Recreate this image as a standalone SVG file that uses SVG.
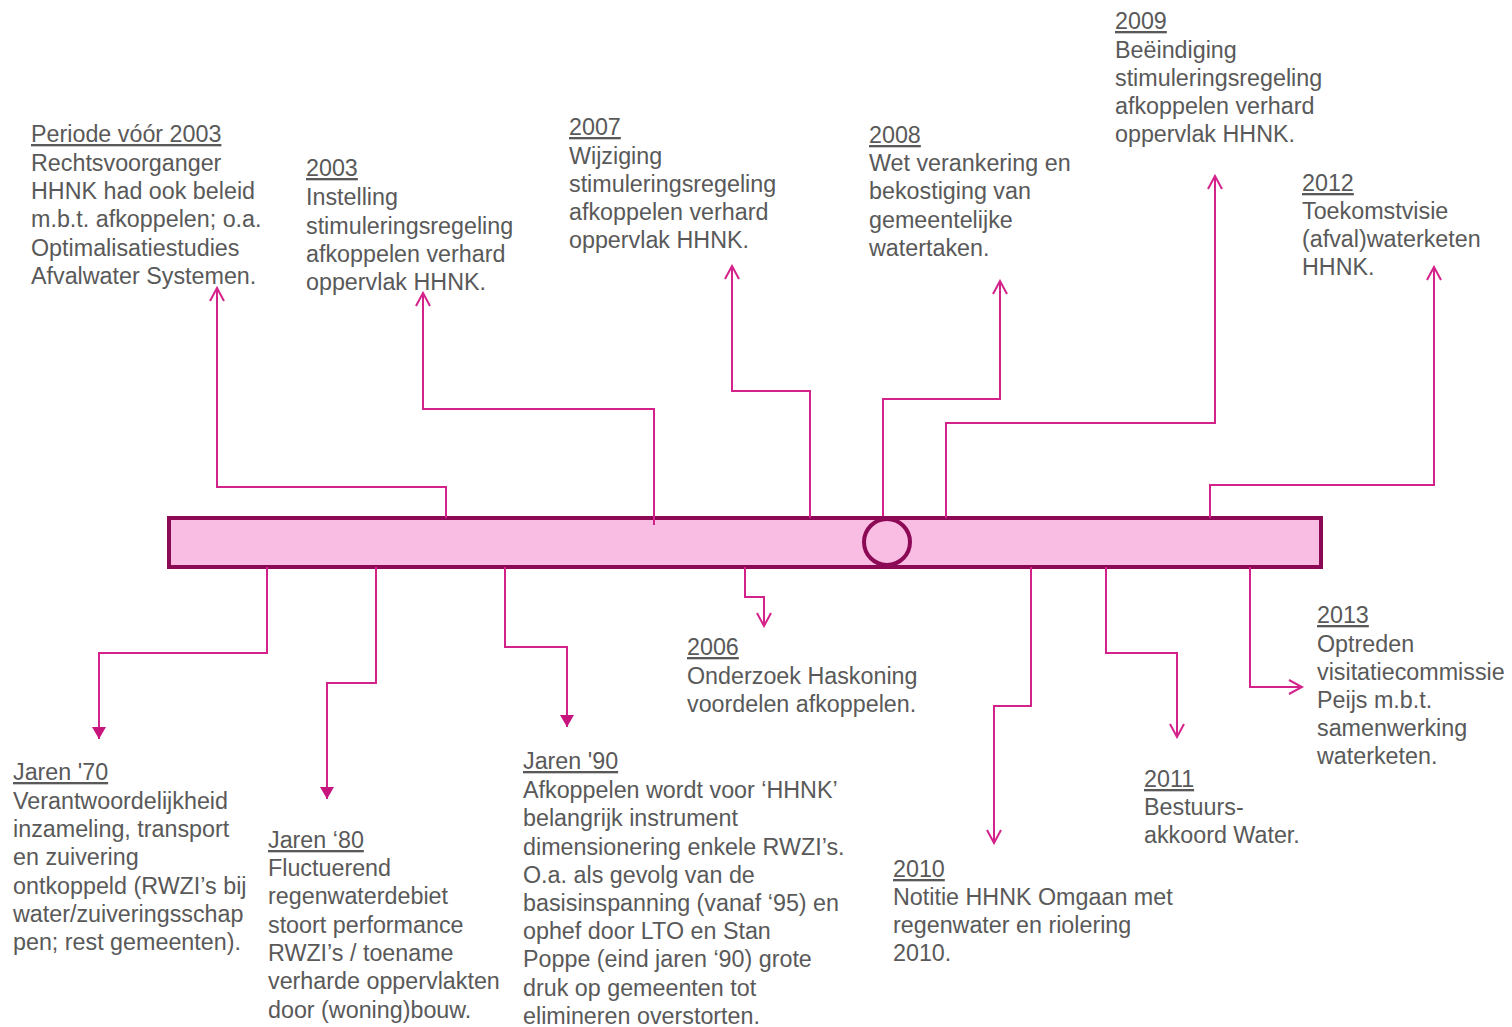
<svg xmlns="http://www.w3.org/2000/svg" width="1512" height="1027" viewBox="0 0 1512 1027">
<defs>
<style>
text{font-family:"Liberation Sans",Arial,sans-serif;font-size:23.3px;fill:#595959}
.u{text-decoration:underline}
.c{fill:none;stroke:#D4228B;stroke-width:2}
.o{marker-end:url(#open)}
.f{marker-end:url(#fill)}
.bar{fill:#F9BCE3;stroke:#8C0A55;stroke-width:4}
</style>
<marker id="open" viewBox="0 0 16 16" refX="14" refY="8" markerWidth="16" markerHeight="16" markerUnits="userSpaceOnUse" orient="auto">
<path d="M1,1 L14,8 L1,15" fill="none" stroke="#D4228B" stroke-width="2"/>
</marker>
<marker id="fill" viewBox="0 0 12 14" refX="12" refY="7" markerWidth="12" markerHeight="14" markerUnits="userSpaceOnUse" orient="auto">
<path d="M0,0 L12,7 L0,14 Z" fill="#C8157E"/>
</marker>
</defs>
<rect width="1512" height="1027" fill="#fff"/>
<g id="timeline">
<rect class="bar" x="169" y="518" width="1152" height="49"/>
<circle class="bar" cx="887" cy="542" r="23"/>
</g>
<g id="connectors">
<path class="c o" d="M446,518 V487 H217 V288"/>
<path class="c o" d="M654,525 V409 H423 V293"/>
<path class="c o" d="M810,518 V391 H732 V266"/>
<path class="c o" d="M883,516 V399 H1000 V281"/>
<path class="c o" d="M946,518 V423 H1215 V176"/>
<path class="c o" d="M1210,518 V485 H1434 V267"/>
<path class="c f" d="M267,567 V653 H99 V739"/>
<path class="c f" d="M376,567 V683 H327 V799"/>
<path class="c f" d="M505,567 V647 H567 V727"/>
<path class="c o" d="M745,567 V597 H764 V626"/>
<path class="c o" d="M1031,567 V706 H994 V843"/>
<path class="c o" d="M1106,567 V653 H1177 V737"/>
<path class="c o" d="M1250,567 V687 H1302"/>
</g>
<g id="periode-2003">
<text x="31" y="142" class="u">Periode vóór 2003</text>
<text x="31" y="171">Rechtsvoorganger</text>
<text x="31" y="199">HHNK had ook beleid</text>
<text x="31" y="227">m.b.t. afkoppelen; o.a.</text>
<text x="31" y="256">Optimalisatiestudies</text>
<text x="31" y="284">Afvalwater Systemen.</text>
</g>
<g id="n2003">
<text x="306" y="176" class="u">2003</text>
<text x="306" y="205">Instelling</text>
<text x="306" y="234">stimuleringsregeling</text>
<text x="306" y="262">afkoppelen verhard</text>
<text x="306" y="290">oppervlak HHNK.</text>
</g>
<g id="n2007">
<text x="569" y="135" class="u">2007</text>
<text x="569" y="164">Wijziging</text>
<text x="569" y="192">stimuleringsregeling</text>
<text x="569" y="220">afkoppelen verhard</text>
<text x="569" y="248">oppervlak HHNK.</text>
</g>
<g id="n2008">
<text x="869" y="143" class="u">2008</text>
<text x="869" y="171">Wet verankering en</text>
<text x="869" y="199">bekostiging van</text>
<text x="869" y="228">gemeentelijke</text>
<text x="869" y="256">watertaken.</text>
</g>
<g id="n2009">
<text x="1115" y="29" class="u">2009</text>
<text x="1115" y="58">Beëindiging</text>
<text x="1115" y="86">stimuleringsregeling</text>
<text x="1115" y="114">afkoppelen verhard</text>
<text x="1115" y="142">oppervlak HHNK.</text>
</g>
<g id="n2012">
<text x="1302" y="191" class="u">2012</text>
<text x="1302" y="219">Toekomstvisie</text>
<text x="1302" y="247">(afval)waterketen</text>
<text x="1302" y="275">HHNK.</text>
</g>
<g id="jaren70">
<text x="13" y="780" class="u">Jaren '70</text>
<text x="13" y="809">Verantwoordelijkheid</text>
<text x="13" y="837">inzameling, transport</text>
<text x="13" y="865">en zuivering</text>
<text x="13" y="894">ontkoppeld (RWZI’s bij</text>
<text x="13" y="922">water/zuiveringsschap</text>
<text x="13" y="950">pen; rest gemeenten).</text>
</g>
<g id="jaren80">
<text x="268" y="848" class="u">Jaren ‘80</text>
<text x="268" y="876">Fluctuerend</text>
<text x="268" y="904">regenwaterdebiet</text>
<text x="268" y="933">stoort performance</text>
<text x="268" y="961">RWZI’s / toename</text>
<text x="268" y="989">verharde oppervlakten</text>
<text x="268" y="1018">door (woning)bouw.</text>
</g>
<g id="jaren90">
<text x="523" y="769" class="u">Jaren '90</text>
<text x="523" y="798">Afkoppelen wordt voor ‘HHNK’</text>
<text x="523" y="826">belangrijk instrument</text>
<text x="523" y="855">dimensionering enkele RWZI’s.</text>
<text x="523" y="883">O.a. als gevolg van de</text>
<text x="523" y="911">basisinspanning (vanaf ‘95) en</text>
<text x="523" y="939">ophef door LTO en Stan</text>
<text x="523" y="967">Poppe (eind jaren ‘90) grote</text>
<text x="523" y="996">druk op gemeenten tot</text>
<text x="523" y="1024">elimineren overstorten.</text>
</g>
<g id="n2006">
<text x="687" y="655" class="u">2006</text>
<text x="687" y="684">Onderzoek Haskoning</text>
<text x="687" y="712">voordelen afkoppelen.</text>
</g>
<g id="n2010">
<text x="893" y="877" class="u">2010</text>
<text x="893" y="905">Notitie HHNK Omgaan met</text>
<text x="893" y="933">regenwater en riolering</text>
<text x="893" y="961">2010.</text>
</g>
<g id="n2011">
<text x="1144" y="787" class="u">2011</text>
<text x="1144" y="815">Bestuurs-</text>
<text x="1144" y="843">akkoord Water.</text>
</g>
<g id="n2013">
<text x="1317" y="623" class="u">2013</text>
<text x="1317" y="652">Optreden</text>
<text x="1317" y="680">visitatiecommissie</text>
<text x="1317" y="708">Peijs m.b.t.</text>
<text x="1317" y="736">samenwerking</text>
<text x="1317" y="764">waterketen.</text>
</g>
</svg>
